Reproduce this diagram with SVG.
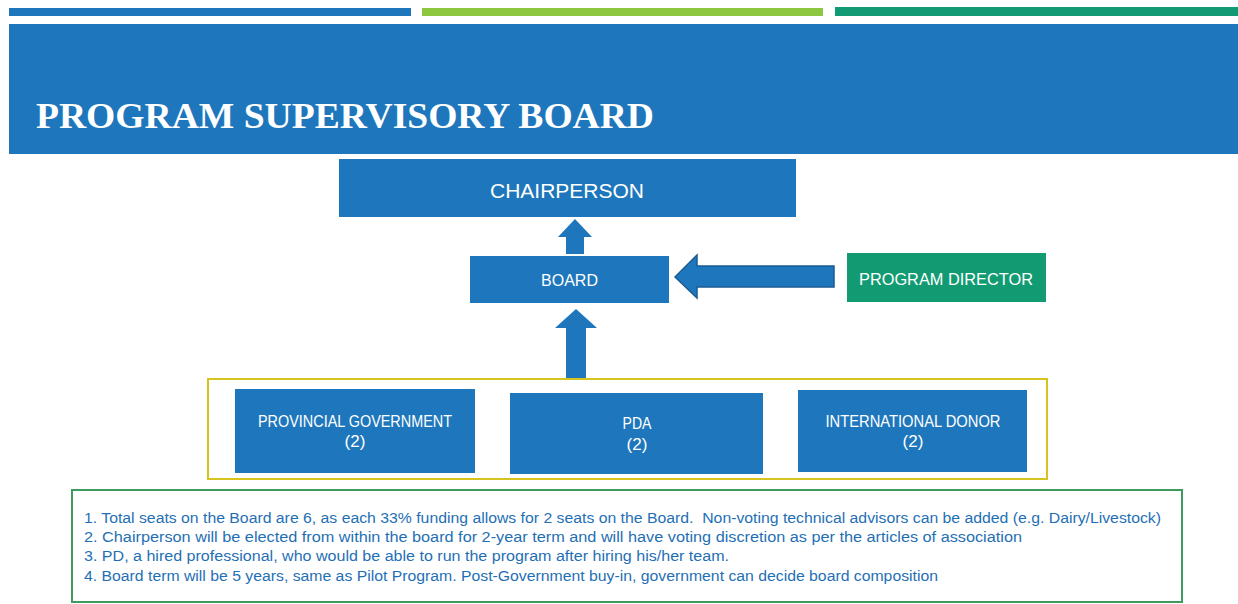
<svg xmlns="http://www.w3.org/2000/svg" width="1238" height="604" viewBox="0 0 1238 604">
<style>
.blue{fill:#1e77bc}
.lbl{font-family:"Liberation Sans","DejaVu Sans",sans-serif;fill:#ffffff;text-anchor:middle}
.note{font-family:"Liberation Sans","DejaVu Sans",sans-serif;font-size:15.5px;fill:#1f6fb5}
.arrow{fill:#1e77bc}
</style>
<rect width="1238" height="604" fill="#ffffff"/>
<g id="topbars">
<rect x="9" y="8" width="402" height="8" fill="#1e77bc"/>
<rect x="422" y="8" width="401" height="8" fill="#8dc63f"/>
<rect x="835" y="7" width="403" height="9" fill="#119a73"/>
</g>
<g id="header">
<rect x="9" y="24" width="1229" height="130" class="blue"/>
<text x="36" y="128" font-family="'Liberation Serif','DejaVu Serif',serif" font-weight="bold" font-size="36" fill="#ffffff" textLength="618" lengthAdjust="spacingAndGlyphs">PROGRAM SUPERVISORY BOARD</text>
</g>
<g id="chairperson">
<rect x="339" y="159" width="457" height="58" class="blue"/>
<text class="lbl" x="567" y="198" font-size="21" textLength="154" lengthAdjust="spacingAndGlyphs">CHAIRPERSON</text>
</g>
<g id="board">
<rect x="470" y="256" width="199" height="47" class="blue"/>
<text class="lbl" x="569.5" y="286" font-size="17" textLength="57" lengthAdjust="spacingAndGlyphs">BOARD</text>
</g>
<g id="program-director">
<rect x="847" y="253" width="199" height="49" fill="#129b72"/>
<text class="lbl" x="946" y="285" font-size="17" textLength="174" lengthAdjust="spacingAndGlyphs">PROGRAM DIRECTOR</text>
</g>
<g id="members">
<rect x="208" y="379" width="839" height="100" fill="none" stroke="#d6c41e" stroke-width="2"/>
</g>
<g id="provincial-government">
<rect x="235" y="389" width="240" height="84" class="blue"/>
<text class="lbl" x="355" y="427" font-size="17" textLength="194" lengthAdjust="spacingAndGlyphs">PROVINCIAL GOVERNMENT</text>
<text class="lbl" x="355" y="447" font-size="17">(2)</text>
</g>
<g id="pda">
<rect x="510" y="393" width="253" height="81" class="blue"/>
<text class="lbl" x="637" y="429" font-size="17" textLength="29" lengthAdjust="spacingAndGlyphs">PDA</text>
<text class="lbl" x="637" y="450" font-size="17">(2)</text>
</g>
<g id="international-donor">
<rect x="798" y="390" width="229" height="82" class="blue"/>
<text class="lbl" x="913" y="427" font-size="17" textLength="175" lengthAdjust="spacingAndGlyphs">INTERNATIONAL DONOR</text>
<text class="lbl" x="913" y="447" font-size="17">(2)</text>
</g>
<g id="connectors">
<polygon class="arrow" points="575,219 592,237 584,237 584,254 566,254 566,237 558,237"/>
<polygon class="arrow" points="576,309 597,328 586,328 586,378 566,378 566,328 555,328"/>
<polygon class="arrow" stroke="#1a5b93" stroke-width="1.5" stroke-linejoin="miter" points="675,277 697,255 697,266 834,266 834,287 697,287 697,298"/>
</g>
<g id="notes">
<rect x="72" y="490" width="1110" height="112" fill="#ffffff" stroke="#3f9a5e" stroke-width="2"/>
<text class="note" x="84" y="523" xml:space="preserve" textLength="1077" lengthAdjust="spacingAndGlyphs">1. Total seats on the Board are 6, as each 33% funding allows for 2 seats on the Board.  Non-voting technical advisors can be added (e.g. Dairy/Livestock)</text>
<text class="note" x="84" y="542" textLength="938" lengthAdjust="spacingAndGlyphs">2. Chairperson will be elected from within the board for 2-year term and will have voting discretion as per the articles of association</text>
<text class="note" x="84" y="561" textLength="645" lengthAdjust="spacingAndGlyphs">3. PD, a hired professional, who would be able to run the program after hiring his/her team.</text>
<text class="note" x="84" y="581" textLength="854" lengthAdjust="spacingAndGlyphs">4. Board term will be 5 years, same as Pilot Program. Post-Government buy-in, government can decide board composition</text>
</g>
</svg>
